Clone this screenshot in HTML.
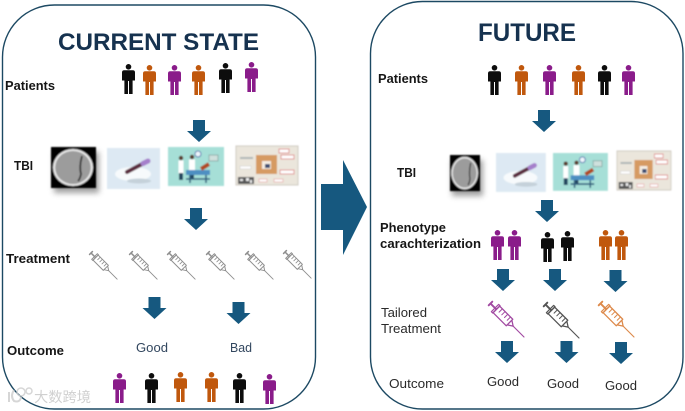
<!DOCTYPE html>
<html><head><meta charset="utf-8"><style>
html,body{margin:0;padding:0;background:#fff;width:685px;height:411px;overflow:hidden}
svg{display:block}
text{font-family:"Liberation Sans","Noto Sans CJK SC",sans-serif}
.b{font-weight:bold;font-size:12.5px;fill:#161616}
.r{font-size:12.5px;fill:#2b2b2b}
.g{font-size:12.5px;fill:#33475f}
.t{font-weight:bold;fill:#12304f}
</style></head><body>
<svg width="685" height="411" viewBox="0 0 685 411" xmlns="http://www.w3.org/2000/svg">
<defs>
<filter id="s" x="-5%" y="-5%" width="110%" height="110%"><feGaussianBlur stdDeviation="0.35"/></filter>
<filter id="bl" x="-10%" y="-10%" width="120%" height="120%"><feGaussianBlur stdDeviation="0.7"/></filter>
<filter id="sh" x="-30%" y="-30%" width="160%" height="160%"><feGaussianBlur stdDeviation="3"/></filter>
<symbol id="p" viewBox="0 0 13 30" width="13" height="30" overflow="visible">
<circle cx="6.500" cy="2.800" r="2.800"/>
<path d="M2.200 6.300H10.800Q13 6.300 13 8.500V16.500H10.600V30H7V17H6V30H2.400V16.500H0V8.500Q0 6.300 2.200 6.300Z"/>
</symbol>
<symbol id="a" viewBox="0 0 24 22" width="24" height="22">
<path d="M6 0H18V11H24L12 22L0 11H6Z" fill="#13597f"/>
</symbol>
<g id="syr" stroke-linecap="round" stroke-linejoin="round">
<path d="M0 -2V2M1 0H6" stroke-width="1.500" fill="none"/>
<path d="M5 -4H6.500V4H5Z" stroke-width="1" fill="none"/>
<path d="M6.500 -3.600H21V3.600H6.500ZM21 -2.600L25 0L21 2.600" stroke-width="1" fill="none"/>
<path d="M9.500 -3.600V0M12.500 -3.600V0M15.500 -3.600V0M18.500 -3.600V0" stroke-width=".8" fill="none"/>
<path d="M25 0H37" stroke-width=".9" fill="none"/>
</g>
<g id="ct">
<rect x="0" y="0" width="45" height="41" fill="#050505"/>
<ellipse cx="22" cy="20.500" rx="20" ry="18.500" fill="#e8e8e8"/>
<ellipse cx="22" cy="20.500" rx="17.800" ry="16.500" fill="#9c9c9c"/>
<path d="M31 9Q28 20 30 27Q29 32 27 34" stroke="#303030" stroke-width="1.800" fill="none"/>
</g>
<g id="tube">
<rect x="0" y="0" width="53" height="41" fill="#dde9f3"/>
<ellipse cx="26" cy="26" rx="18" ry="7" fill="#f7fafc"/>
<path d="M20 24L37 15" stroke="#5a2a3c" stroke-width="4" stroke-linecap="round"/>
<path d="M36 15.500L41 13" stroke="#a57fcb" stroke-width="5" stroke-linecap="round"/>
<ellipse cx="32" cy="33" rx="12" ry="2.500" fill="#c5d1da"/>
</g>
<g id="doc">
<rect x="0" y="0" width="56" height="39" fill="#a6dfd7"/>
<circle cx="30" cy="7" r="3" fill="#eef6fb" stroke="#5578b0"/>
<rect x="41" y="8" width="9" height="6" fill="#cfe0dd" stroke="#8fb0ac"/>
<circle cx="13" cy="11" r="2.200" fill="#5c3a2c"/><rect x="10.500" y="13.500" width="5" height="13" fill="#fff"/><rect x="11" y="26" width="4" height="7" fill="#24455f"/>
<circle cx="24" cy="10" r="2.200" fill="#5c3a2c"/><rect x="21" y="12.500" width="6" height="12" fill="#fff"/><rect x="22" y="24" width="4" height="8" fill="#24455f"/>
<rect x="18" y="23" width="24" height="5" fill="#4d8fc2"/>
<path d="M33 22L41 17" stroke="#b04a22" stroke-width="4"/>
<path d="M22 28V36M38 28V36M18 32H42" stroke="#2e5f7d" stroke-width="1.600"/>
</g>
<g id="post">
<rect x="0" y="0" width="62" height="39" fill="#ebe6dc" stroke="#cfcbc2"/>
<rect x="20" y="9" width="21" height="19" fill="#d69a62"/>
<rect x="26" y="15" width="9" height="8" fill="#f5ede3"/>
<rect x="29" y="18" width="5" height="4" fill="#3a4a70"/>
<rect x="43" y="3" width="10" height="4" fill="#fff" stroke="#d86a6a" stroke-width=".7"/>
<rect x="45" y="9" width="13" height="4" fill="#fff" stroke="#d86a6a" stroke-width=".7"/>
<rect x="44" y="24" width="14" height="4" fill="#fff" stroke="#d86a6a" stroke-width=".7"/>
<rect x="4" y="11" width="13" height="2" fill="#aeb6b6"/>
<rect x="4" y="20" width="11" height="3" fill="#fff" stroke="#c8c8c8" stroke-width=".5"/>
<rect x="2" y="31" width="16" height="7" fill="#555"/>
<rect x="4" y="33" width="3" height="2" fill="#eee"/><rect x="10" y="32" width="3" height="3" fill="#eee"/><rect x="14" y="34" width="2" height="3" fill="#eee"/>
<rect x="23" y="33" width="8" height="3" fill="#fff" stroke="#d88" stroke-width=".5"/>
<rect x="38" y="33" width="9" height="3" fill="#fff" stroke="#d88" stroke-width=".5"/>
</g>
</defs>
<g filter="url(#s)">
<rect x="2.500" y="5" width="313" height="404" rx="52" ry="52" fill="#fff" stroke="#1f4a63" stroke-width="1.400"/>
<rect x="370.500" y="1.500" width="312.500" height="407.500" rx="52" ry="52" fill="#fff" stroke="#1f4a63" stroke-width="1.400"/>
<path d="M321 184H343V160L367 207L343 255V230H321Z" fill="#13597f"/>

<text class="t" x="58" y="50" font-size="24" textLength="201" lengthAdjust="spacingAndGlyphs">CURRENT STATE</text>
<text class="t" x="478" y="41" font-size="25" textLength="98" lengthAdjust="spacingAndGlyphs">FUTURE</text>

<text class="b" x="5" y="90" textLength="50" lengthAdjust="spacingAndGlyphs">Patients</text>
<text class="b" x="14" y="170" textLength="19" lengthAdjust="spacingAndGlyphs">TBI</text>
<text class="b" x="6" y="263" textLength="64" lengthAdjust="spacingAndGlyphs">Treatment</text>
<text class="b" x="7" y="355" textLength="57" lengthAdjust="spacingAndGlyphs">Outcome</text>
<text class="g" x="136" y="352" textLength="32" lengthAdjust="spacingAndGlyphs">Good</text>
<text class="g" x="230" y="352" textLength="22" lengthAdjust="spacingAndGlyphs">Bad</text>

<text class="b" x="378" y="83" textLength="50" lengthAdjust="spacingAndGlyphs">Patients</text>
<text class="b" x="397" y="177" textLength="19" lengthAdjust="spacingAndGlyphs">TBI</text>
<text class="b" x="380" y="232" textLength="66" lengthAdjust="spacingAndGlyphs">Phenotype</text>
<text class="b" x="380" y="248" textLength="101" lengthAdjust="spacingAndGlyphs">carachterization</text>
<text class="r" x="381" y="317" textLength="46" lengthAdjust="spacingAndGlyphs">Tailored</text>
<text class="r" x="381" y="333" textLength="60" lengthAdjust="spacingAndGlyphs">Treatment</text>
<text class="r" x="389" y="388" textLength="55" lengthAdjust="spacingAndGlyphs">Outcome</text>
<text class="r" x="487" y="386" textLength="32" lengthAdjust="spacingAndGlyphs">Good</text>
<text class="r" x="547" y="388" textLength="32" lengthAdjust="spacingAndGlyphs">Good</text>
<text class="r" x="605" y="390" textLength="32" lengthAdjust="spacingAndGlyphs">Good</text>

<use href="#p" x="122" y="64" fill="#0a0a0a"/>
<use href="#p" x="143" y="65" fill="#c0580f"/>
<use href="#p" x="168" y="65" fill="#8a1a8a"/>
<use href="#p" x="192" y="65" fill="#c0580f"/>
<use href="#p" x="219" y="63" fill="#0a0a0a"/>
<use href="#p" x="245" y="62" fill="#8a1a8a"/>
<use href="#p" x="113" y="373" fill="#8a1a8a"/>
<use href="#p" x="145" y="373" fill="#0a0a0a"/>
<use href="#p" x="174" y="372" fill="#c0580f"/>
<use href="#p" x="205" y="372" fill="#c0580f"/>
<use href="#p" x="233" y="373" fill="#0a0a0a"/>
<use href="#p" x="263" y="374" fill="#8a1a8a"/>
<use href="#p" x="488" y="65" fill="#0a0a0a"/>
<use href="#p" x="515" y="65" fill="#c0580f"/>
<use href="#p" x="543" y="65" fill="#8a1a8a"/>
<use href="#p" x="572" y="65" fill="#c0580f"/>
<use href="#p" x="598" y="65" fill="#0a0a0a"/>
<use href="#p" x="622" y="65" fill="#8a1a8a"/>
<use href="#p" x="491" y="230" fill="#8a1a8a"/>
<use href="#p" x="508" y="230" fill="#8a1a8a"/>
<use href="#p" x="541" y="232" fill="#0a0a0a"/>
<use href="#p" x="561" y="231" fill="#0a0a0a"/>
<use href="#p" x="599" y="230" fill="#c0580f"/>
<use href="#p" x="615" y="230" fill="#c0580f"/>

<use href="#a" x="187" y="120"/>
<use href="#a" x="184" y="208"/>
<use href="#a" x="142.500" y="297"/>
<use href="#a" x="226.500" y="302"/>
<use href="#a" x="532" y="110"/>
<use href="#a" x="535" y="200"/>
<use href="#a" x="491" y="269"/>
<use href="#a" x="543" y="269"/>
<use href="#a" x="603.500" y="270"/>
<use href="#a" x="495" y="341"/>
<use href="#a" x="554.500" y="341"/>
<use href="#a" x="609" y="342"/>

<g stroke="#8f8f8f">
<use href="#syr" transform="translate(91,253) rotate(45)"/>
<use href="#syr" transform="translate(131,253) rotate(45)"/>
<use href="#syr" transform="translate(169,253) rotate(45)"/>
<use href="#syr" transform="translate(208,253) rotate(45)"/>
<use href="#syr" transform="translate(247,253) rotate(45)"/>
<use href="#syr" transform="translate(285,252) rotate(45)"/>
</g>
<use href="#syr" stroke="#a24ba2" transform="translate(490.500,303.500) rotate(45) scale(1.280)"/>
<use href="#syr" stroke="#555" transform="translate(545.500,304.500) rotate(45) scale(1.280)"/>
<use href="#syr" stroke="#dd8a4c" transform="translate(600.500,303.500) rotate(45) scale(1.280)"/>
</g>

<rect x="54" y="152" width="45" height="41" fill="#555" opacity=".55" filter="url(#sh)"/>
<rect x="452" y="160" width="31" height="36" fill="#555" opacity=".55" filter="url(#sh)"/>
<g filter="url(#bl)">
<use href="#ct" transform="translate(51,147)"/>
<use href="#tube" transform="translate(107,148)"/>
<use href="#doc" transform="translate(168,147)"/>
<use href="#post" transform="translate(236,146)"/>
<use href="#ct" transform="translate(450,155) scale(.667,.88)"/>
<use href="#tube" transform="translate(496,153) scale(.94,.95)"/>
<use href="#doc" transform="translate(553,153) scale(.98,.97)"/>
<use href="#post" transform="translate(617,151) scale(.87,1)"/>
</g>

<g opacity=".85" filter="url(#s)">
<circle cx="21" cy="392" r="4" fill="none" stroke="#d0d0d0" stroke-width="1.500"/>
<circle cx="29" cy="391" r="3" fill="none" stroke="#d0d0d0" stroke-width="1.500"/>
<path d="M9 392V402M14 390Q10 396 14 401Q20 403 21 397" fill="none" stroke="#d0d0d0" stroke-width="2"/>
<text x="34" y="402" font-size="14" fill="#c8c8c8" textLength="57" lengthAdjust="spacingAndGlyphs">大数跨境</text>
</g>
</svg>
</body></html>
